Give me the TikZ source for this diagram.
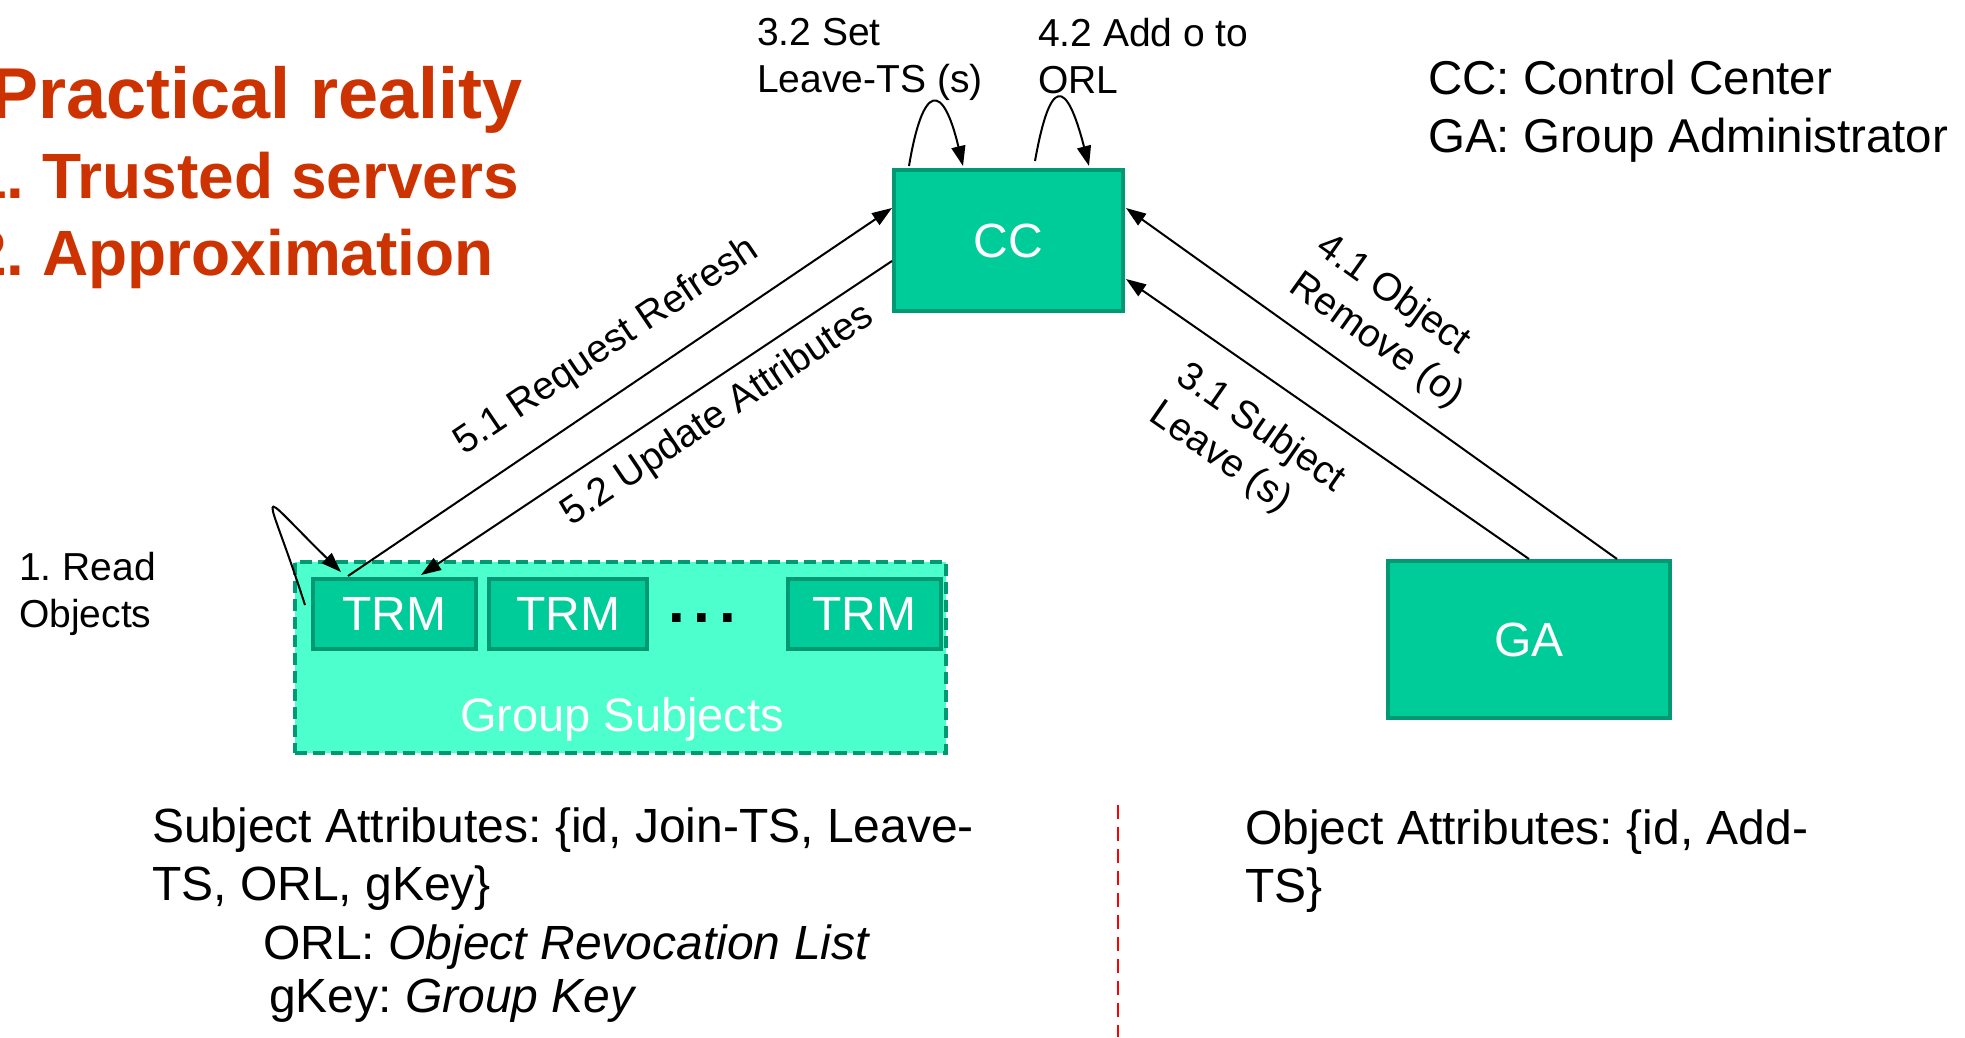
\documentclass[tikz,border=0pt]{standalone}
\usepackage{fontspec}
\setmainfont{Liberation Sans}
\usetikzlibrary{arrows.meta,calc}
\definecolor{boxfill}{HTML}{00CC99}
\definecolor{boxline}{HTML}{009973}
\definecolor{grpfill}{HTML}{4DFFCC}
\definecolor{titlered}{HTML}{CC3300}
\frenchspacing
\begin{document}
\begin{tikzpicture}[x=1pt,y=-1pt,
  box/.style={draw=boxline, fill=boxfill, line width=4pt, text=white, inner sep=0pt, font=\fontsize{48}{58}\selectfont},
  grp/.style={draw=boxline, fill=grpfill, line width=4pt, dash pattern=on 12pt off 6pt, inner sep=0pt},
  conn/.style={line width=2pt, -{Triangle[length=20pt,width=14pt]}},
  lbl/.style={inner sep=0pt, align=left, font=\fontsize{39}{47}\selectfont},
  attr/.style={inner sep=0pt, align=left, anchor=north west, font=\fontsize{48}{58}\selectfont},
  ttl/.style={inner sep=0pt, anchor=base west, text=titlered},
  reddash/.style={red, line width=2pt, dash pattern=on 14pt off 8pt}]
\useasboundingbox (0,0) rectangle (1965,1037);
\fill[white] (0,0) rectangle (1965,1037);

% title
\node[ttl, font=\fontsize{72}{80}\selectfont\bfseries] (t0) at (-10,118) {Practical reality};
\node[ttl, font=\fontsize{64}{72}\selectfont\bfseries] (t1) at (-29,198) {1. Trusted servers};
\node[ttl, font=\fontsize{64}{72}\selectfont\bfseries] (t2) at (-29,275) {2. Approximation};

% legend
\node[attr, font=\fontsize{47.5}{58}\selectfont] (legend) at (1428,60) {CC: Control Center\\GA: Group Administrator};

% group
\node[grp, minimum width=651pt, minimum height=191pt] (grp) at (620.5,657.5) {};
\node[inner sep=0pt, text=white, font=\fontsize{47}{56}\selectfont] (gs) at (622,719) {Group Subjects};
\node[box, minimum width=163pt, minimum height=70pt] (trm1) at (394.5,614) {TRM};
\node[box, minimum width=158pt, minimum height=70pt] (trm2) at (568,614) {TRM};
\node[box, minimum width=153pt, minimum height=70pt] (trm3) at (864.5,614) {TRM};
\node[inner sep=0pt, anchor=base, font=\fontsize{60}{60}\selectfont\bfseries] (dots) at (702,622) {.\kern9pt.\kern9pt.};

% main boxes
\node[box, minimum width=229pt, minimum height=141pt] (cc) at (1008.5,240.5) {CC};
\node[box, minimum width=282pt, minimum height=157pt] (ga) at (1529,639.5) {GA};

% connectors
\draw[conn] ($(trm1.north)+(-46.5,-1)$) -- ($(cc.west)+(0,-32.5)$);
\draw[conn] ($(cc.west)+(0,20.5)$) -- ($(trm1.north)+(26.5,-2)$);
\draw[conn] ($(ga.north)+(88,0)$) -- ($(cc.east)+(1,-32.5)$);
\draw[conn] (ga.north) -- ($(cc.east)+(1,38.5)$);

% self loops
\draw[conn] ($(cc.north)+(-99.5,-2)$) .. controls ($(cc.north)+(-85.5,-86)$) and ($(cc.north)+(-65.5,-86)$) .. ($(cc.north)+(-45.5,-2)$);
\draw[conn] ($(cc.north)+(26.5,-7)$) .. controls ($(cc.north)+(41.5,-91)$) and ($(cc.north)+(57.5,-91)$) .. ($(cc.north)+(80.5,-2)$);
\draw[conn] ($(trm1.west)+(-6,-9)$) .. controls ($(trm1.west)+(-45,-131)$) and ($(trm1.west)+(-61,-131)$) .. ($(trm1.north)+(-53.5,-5)$);

% labels
\node[lbl, rotate=34] (l51) at (607,347) {5.1 Request Refresh};
\node[lbl, rotate=34] (l52) at (718,416) {5.2 Update Attributes};
\node[lbl, rotate=-35.5] (l41) at (1390,322) {4.1 Object\\Remove (o)};
\node[lbl, rotate=-34.8] (l31) at (1247,448) {3.1 Subject\\Leave (s)};
\node[lbl, anchor=north west] (l32) at (757,18) {3.2 Set\\Leave-TS (s)};
\node[lbl, anchor=north west] (l42) at (1038,18) {4.2 Add o to\\ORL};
\node[lbl, anchor=north west] (l1) at (19,552) {1. Read\\Objects};

% attributes
\node[attr] (subj) at (152,808) {Subject Attributes: \{id, Join-TS, Leave-\\TS, ORL, gKey\}};
\node[attr, font=\fontsize{48}{53}\selectfont] (abbr) at (263,925) {ORL: \textit{Object Revocation List}\\\hspace*{6pt}gKey: \textit{Group Key}};
\node[attr] (obj) at (1245,810) {Object Attributes: \{id, Add-\\TS\}};

% separator
\draw[reddash] (1118,805) -- (1118,1037);
\end{tikzpicture}
\end{document}
